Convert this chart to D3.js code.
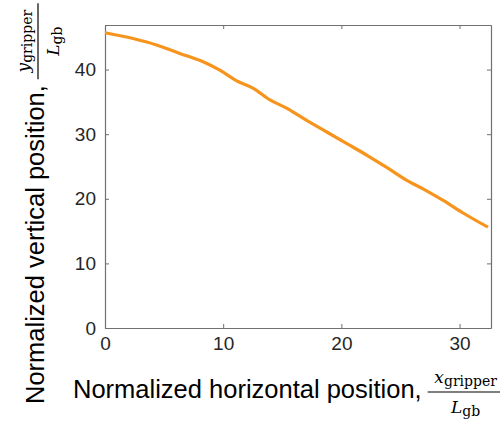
<!DOCTYPE html>
<html>
<head>
<meta charset="utf-8">
<script src="https://cdn.jsdelivr.net/npm/d3@7"></script>
<style>
  body { margin: 0; background: #fff; }
  svg { display: block; }
</style>
</head>
<body>
<div id="chart"></div>
<script>
// values
const xPos = [0, 2.37, 4.36, 6.33, 8.3, 9.72, 11.1, 12.55, 13.96, 15.4, 17.1, 18.8, 20.5, 22.2, 23.8, 25.5, 26.95, 28.65, 30.3, 32.4];
const yPos = [45.7, 44.8, 43.8, 42.5, 41.2, 39.9, 38.3, 37.1, 35.3, 34.0, 32.1, 30.3, 28.5, 26.7, 24.9, 22.9, 21.5, 19.7, 17.8, 15.6];
const xTicks = [0, 10, 20, 30];
const yTicks = [0, 10, 20, 30, 40];

const width = 500, height = 421;
const margin = { left: 105, right: 9, top: 25, bottom: 93 };

const svg = d3.select("#chart").append("svg")
    .attr("width", width)
    .attr("height", height)
    .style("font-family", "'Liberation Sans', Arial, sans-serif");

const x = d3.scaleLinear().domain([0, 32.66]).range([margin.left, width - margin.right]);
const y = d3.scaleLinear().domain([0, 46.9]).range([height - margin.bottom, margin.top]);

const axisColor = "#707070";
const tickLen = 4;

// box + ticks (inward on all four sides, like matlab)
const gx = svg.append("g").attr("transform", `translate(0,${y(0)})`)
    .call(d3.axisBottom(x).tickValues(xTicks).tickSize(-tickLen).tickPadding(9).tickSizeOuter(0));
const gxt = svg.append("g").attr("transform", `translate(0,${y.range()[1]})`)
    .call(d3.axisTop(x).tickValues(xTicks).tickSize(-tickLen).tickFormat("").tickSizeOuter(0));
const gy = svg.append("g").attr("transform", `translate(${x(0)},0)`)
    .call(d3.axisLeft(y).tickValues(yTicks).tickSize(-tickLen).tickPadding(9).tickSizeOuter(0));
const gyr = svg.append("g").attr("transform", `translate(${x.range()[1]},0)`)
    .call(d3.axisRight(y).tickValues(yTicks).tickSize(-tickLen).tickFormat("").tickSizeOuter(0));

[gx, gxt, gy, gyr].forEach(g => {
    g.select(".domain").attr("stroke", axisColor).attr("stroke-width", 1.2);
    g.selectAll(".tick line").attr("stroke", axisColor);
    g.selectAll(".tick text").attr("fill", "#262626").style("font-size", "19px").style("font-family", "'Liberation Sans', Arial, sans-serif");
});
gx.selectAll(".tick text").attr("dy", "0.71em");

// line
const line = d3.line().x((d, i) => x(xPos[i])).y(d => y(d)).curve(d3.curveMonotoneX);
svg.append("path")
    .datum(yPos)
    .attr("fill", "none")
    .attr("stroke", "#f7941d")
    .attr("stroke-width", 3.2)
    .attr("stroke-linejoin", "round")
    .attr("d", line);

// axis labels with fractions
const mathFont = "'DejaVu Serif', 'Liberation Serif', serif";

function fracLabel(g, txt, sym) {
    const t = g.append("text")
        .attr("x", 0).attr("y", 0)
        .attr("fill", "#000")
        .style("font-size", "25.5px")
        .text(txt);
    const len = t.node().getComputedTextLength();
    const fx = len + 6, fw = 76, cx = fx + fw / 2;
    const num = g.append("text")
        .attr("x", cx).attr("y", -15)
        .attr("text-anchor", "middle")
        .style("font-family", mathFont)
        .style("font-size", "17px");
    num.append("tspan").style("font-style", "italic").text(sym);
    num.append("tspan").attr("dy", 3).style("font-size", "14px").text("gripper");
    g.append("line")
        .attr("x1", fx).attr("x2", fx + fw)
        .attr("y1", -6).attr("y2", -6)
        .attr("stroke", "#000").attr("stroke-width", 1.2);
    const den = g.append("text")
        .attr("x", cx).attr("y", 15)
        .attr("text-anchor", "middle")
        .style("font-family", mathFont)
        .style("font-size", "17px");
    den.append("tspan").style("font-style", "italic").text("L");
    den.append("tspan").attr("dy", 3).style("font-size", "14px").text("gb");
}

fracLabel(svg.append("g").attr("transform", "translate(73,398)"),
    "Normalized horizontal position,", "x");
fracLabel(svg.append("g").attr("transform", "translate(44,404) rotate(-90)"),
    "Normalized vertical position,", "y");
</script>
</body>
</html>
